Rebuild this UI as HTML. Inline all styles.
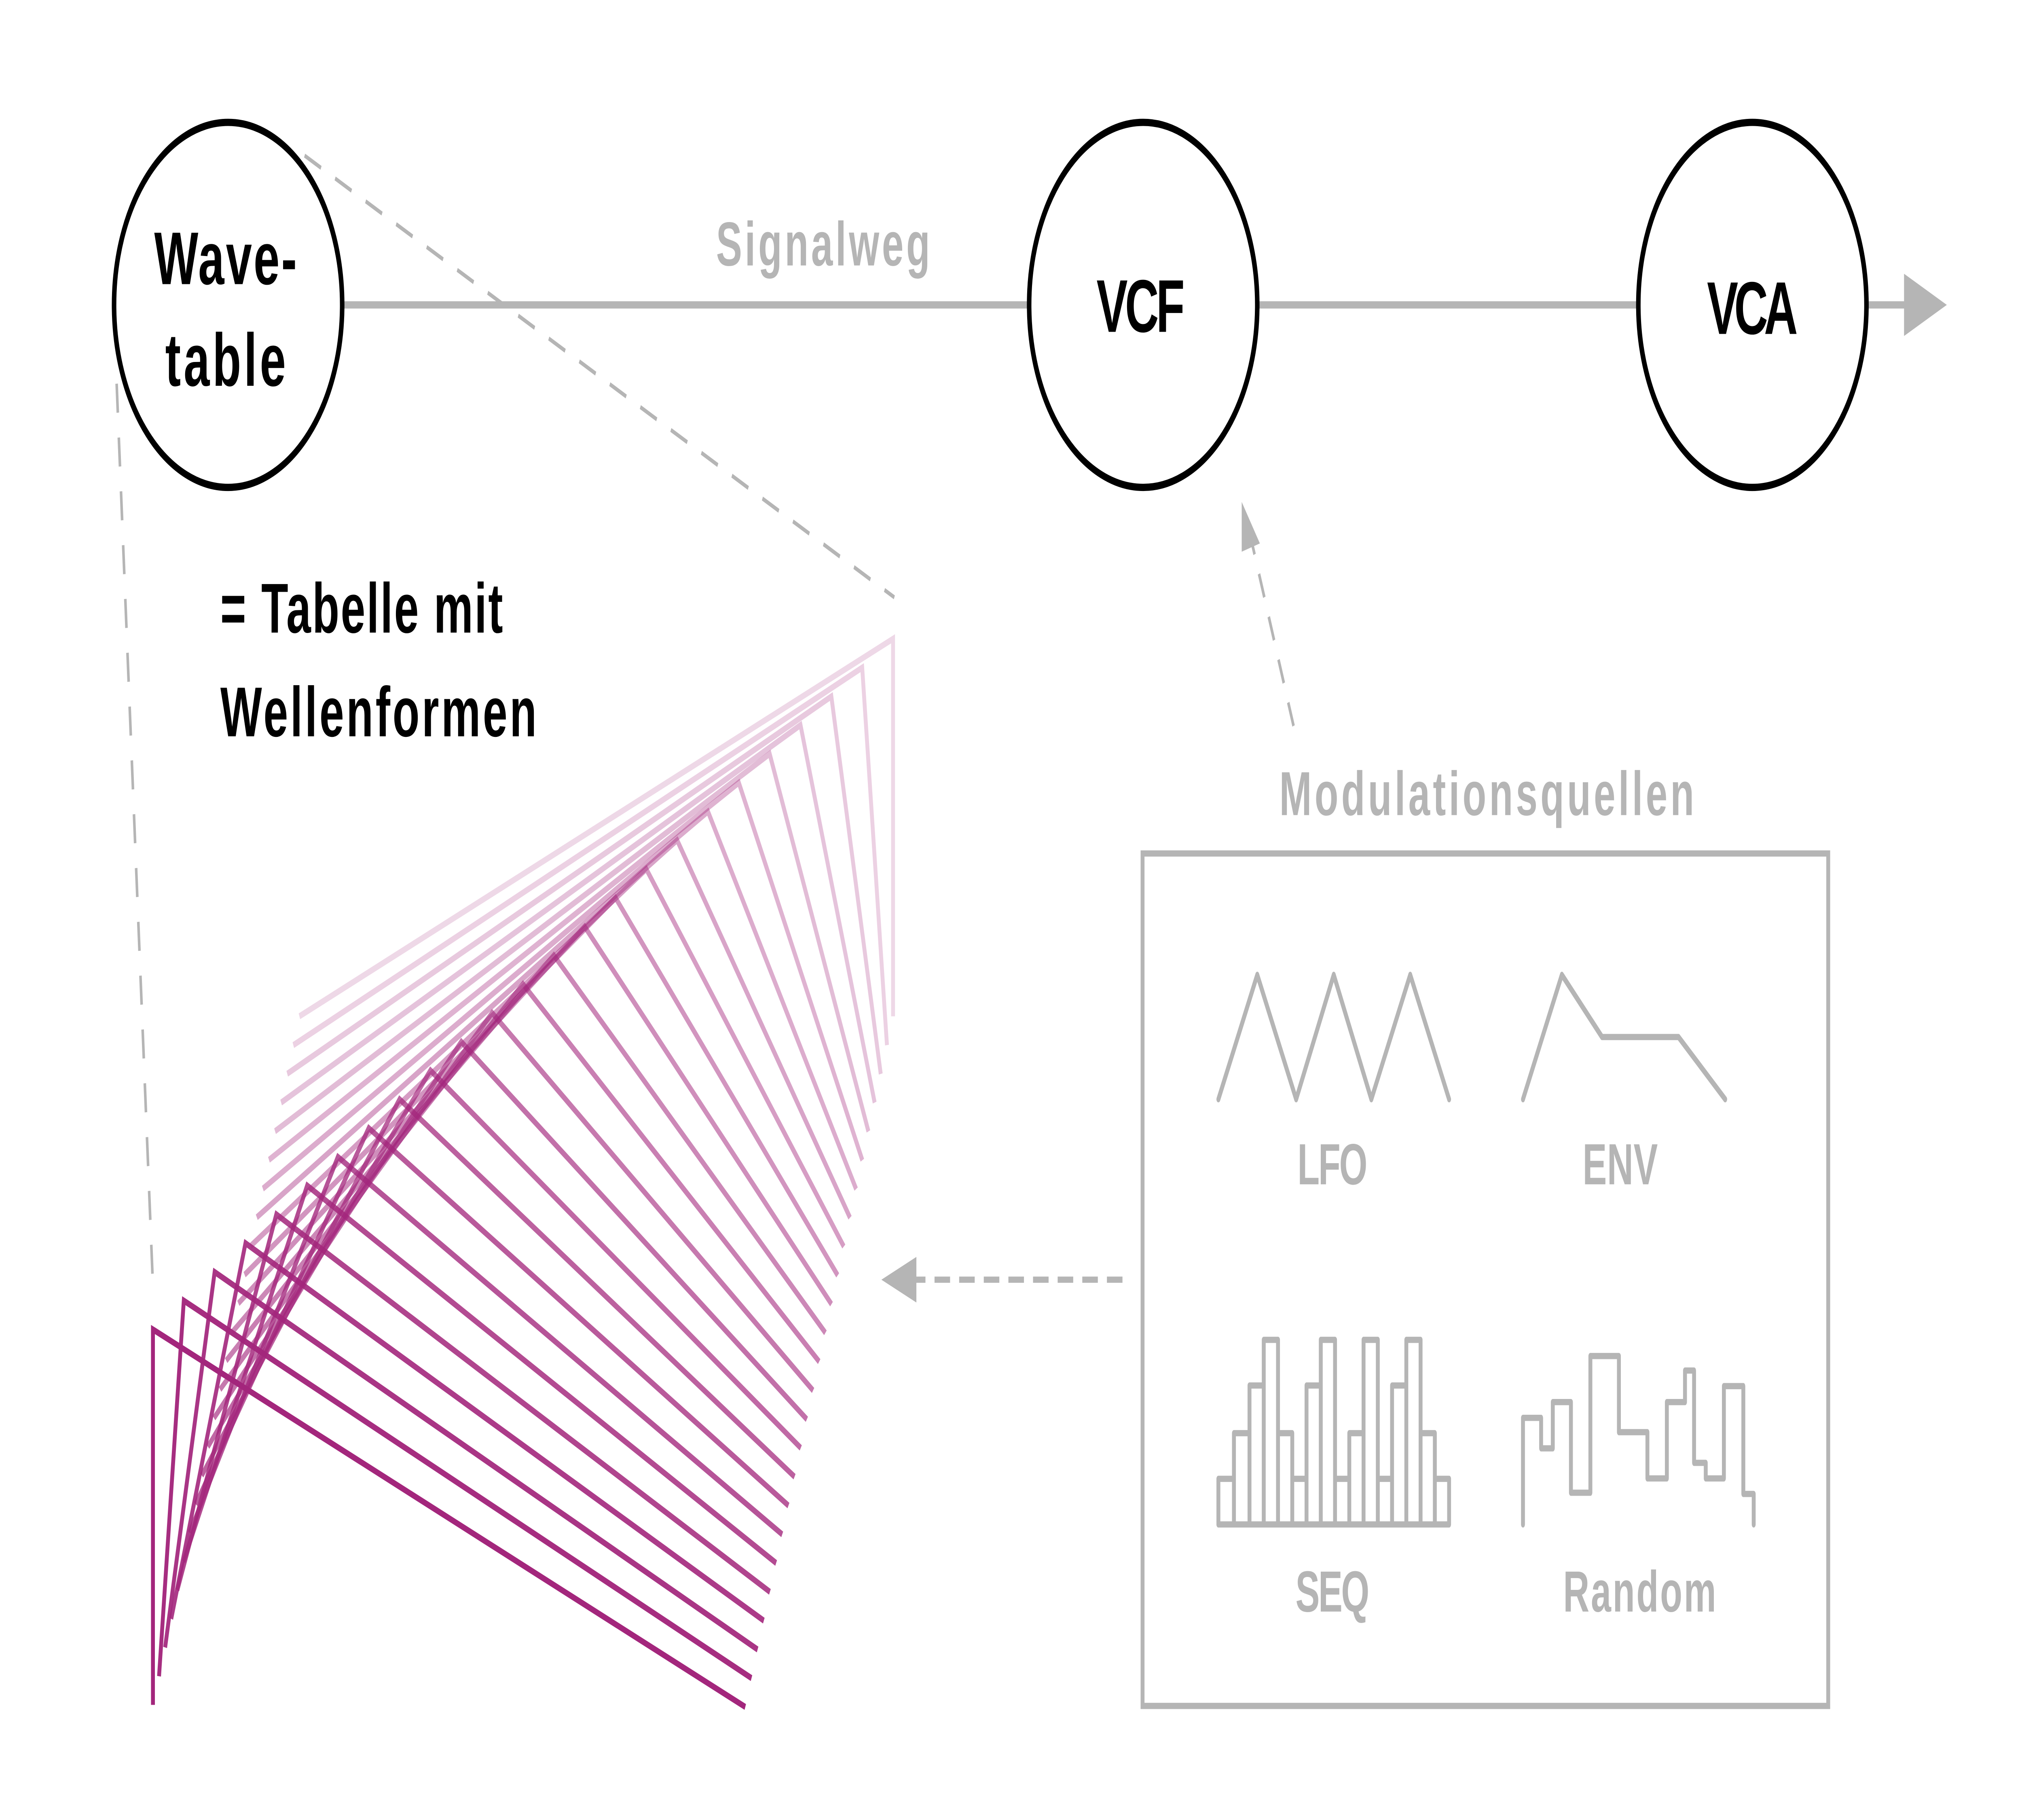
<!DOCTYPE html>
<html><head><meta charset="utf-8"><style>
html,body{margin:0;padding:0;background:#fff;width:100%;height:100%;overflow:hidden;}
svg{display:block;width:100vw;height:100vh;}
text{font-family:"Liberation Sans",sans-serif;font-weight:bold;}
</style></head><body>
<svg viewBox="0 0 1560 877.5" preserveAspectRatio="none" xmlns="http://www.w3.org/2000/svg">
<rect x="0" y="0" width="1560" height="877.5" fill="#fff"/>
<g stroke="#b5b5b5" stroke-width="2" fill="none" stroke-dasharray="14,12">
<line x1="235" y1="75" x2="690" y2="288"/>
<line x1="90" y1="185" x2="118" y2="620"/>
</g>
<g stroke="#b5b5b5" stroke-width="3.5" fill="none">
<line x1="265" y1="147" x2="793" y2="147"/>
<line x1="971" y1="147" x2="1263" y2="147"/>
<line x1="1441" y1="147" x2="1475" y2="147"/>
</g>
<polygon points="1469,132 1502,147 1469,162" fill="#b5b5b5"/>
<text x="635" y="128" font-size="30" fill="#b5b5b5" text-anchor="middle" textLength="165">Signalweg</text>
<g stroke="#000" stroke-width="3.5" fill="#fff">
<circle cx="176" cy="147" r="88"/>
<circle cx="882" cy="147" r="88"/>
<circle cx="1352" cy="147" r="88"/>
</g>
<text x="174" y="137" font-size="36" text-anchor="middle" textLength="110">Wave-</text>
<text x="174" y="186" font-size="36" text-anchor="middle" textLength="93">table</text>
<text x="880" y="160" font-size="36" text-anchor="middle" textLength="68">VCF</text>
<text x="1352" y="161" font-size="36" text-anchor="middle" textLength="70">VCA</text>
<text x="170" y="305" font-size="34" textLength="218">= Tabelle mit</text>
<text x="170" y="355" font-size="34" textLength="244">Wellenformen</text>
<line x1="998" y1="350" x2="966" y2="262" stroke="#b5b5b5" stroke-width="2" stroke-dasharray="12,10"/>
<polygon points="958,242 972,262 958,266" fill="#b5b5b5"/>
<line x1="866" y1="617" x2="705" y2="617" stroke="#b5b5b5" stroke-width="3" stroke-dasharray="12,7"/>
<polygon points="680,617 707,606 707,628" fill="#b5b5b5"/>
<text x="1147" y="393" font-size="30" fill="#b5b5b5" text-anchor="middle" textLength="320">Modulationsquellen</text>
<rect x="881.5" y="411.5" width="529" height="411" fill="none" stroke="#b5b5b5" stroke-width="3"/>
<g stroke="#b5b5b5" stroke-width="3" fill="none" stroke-linejoin="round" stroke-linecap="round">
<polyline points="940,530 970,470 1000,530 1029,470 1058,530 1088,470 1118,530"/>
<polyline points="1175,530 1205,470 1236,500 1295,500 1331,530"/>
<path d="M940,735 H1118 V713 H1107 V735 M1107,691 H1096 V735 M1096,646 H1085 V735 M1085,668 H1074 V735 M1074,713 H1063 V735 M1063,646 H1052 V735 M1052,691 H1041 V735 M1041,713 H1030 V735 M1030,646 H1019 V735 M1019,668 H1008 V735 M1008,713 H997 V735 M997,691 H986 V735 M986,646 H975 V735 M975,668 H964 V735 M964,691 H952 V735 M952,713 H940 V735 M1107,691 V713 M1096,646 V691 M1085,646 V668 M1074,668 V713 M1063,646 V713 M1052,646 V691 M1041,691 V713 M1030,646 V713 M1019,646 V668 M1008,668 V713 M997,691 V713 M986,646 V691 M975,646 V668 M964,668 V691 M952,691 V713"/>
<polyline points="1175,735 1175,683.6 1189,683.6 1189,698.3 1198,698.3 1198,676 1212,676 1212,719.7 1227,719.7 1227,653.8 1249,653.8 1249,690.5 1271,690.5 1271,712.8 1286,712.8 1286,676 1300,676 1300,660.8 1307,660.8 1307,705.3 1316,705.3 1316,712.8 1330,712.8 1330,668.3 1345,668.3 1345,720.3 1353,720.3 1353,735"/>
</g>
<g font-size="28" fill="#b5b5b5" text-anchor="middle">
<text x="1028" y="571" textLength="54">LFO</text>
<text x="1250" y="571" textLength="58">ENV</text>
<text x="1028" y="777" textLength="57">SEQ</text>
<text x="1265" y="777" textLength="118">Random</text>
</g>
<g stroke="#a3267c" stroke-width="3" fill="none" stroke-linejoin="miter">
<polyline opacity="0.18" points="231,490 689,308 689,490"/>
<polyline opacity="0.21" points="226.3,503.9 665.2,321.9 684.3,503.9"/>
<polyline opacity="0.25" points="221.6,517.7 641.4,335.8 679.5,517.8"/>
<polyline opacity="0.28" points="216.9,531.6 617.6,349.6 674.8,531.6"/>
<polyline opacity="0.31" points="212.2,545.4 593.8,363.5 670,545.5"/>
<polyline opacity="0.35" points="207.5,559.2 570,377.4 665.3,559.4"/>
<polyline opacity="0.38" points="202.8,573.1 546.2,391.3 660.5,573.3"/>
<polyline opacity="0.42" points="198.1,586.9 522.4,405.1 655.8,587.1"/>
<polyline opacity="0.45" points="193.4,600.7 498.6,419 651,601"/>
<polyline opacity="0.49" points="188.7,614.6 474.9,432.9 646.3,614.9"/>
<polyline opacity="0.52" points="183.9,628.4 451.1,446.8 641.5,628.8"/>
<polyline opacity="0.55" points="179.2,642.2 427.3,460.6 636.8,642.6"/>
<polyline opacity="0.59" points="174.5,656 403.5,474.5 632,656.5"/>
<polyline opacity="0.62" points="169.8,669.9 379.7,488.4 627.3,670.4"/>
<polyline opacity="0.66" points="165.1,683.7 355.9,502.3 622.5,684.3"/>
<polyline opacity="0.69" points="160.4,697.5 332.1,516.1 617.8,698.1"/>
<polyline opacity="0.73" points="155.7,711.4 308.3,530 613,712"/>
<polyline opacity="0.76" points="151,725.2 284.5,543.9 608.3,725.9"/>
<polyline opacity="0.79" points="146.3,739 260.7,557.8 603.5,739.8"/>
<polyline opacity="0.83" points="141.6,752.9 237,571.6 598.8,753.6"/>
<polyline opacity="0.86" points="136.8,766.7 213.2,585.5 594,767.5"/>
<polyline opacity="0.90" points="132.1,780.5 189.4,599.4 589.3,781.4"/>
<polyline opacity="0.93" points="127.4,794.3 165.6,613.3 584.5,795.3"/>
<polyline opacity="0.97" points="122.7,808.2 141.8,627.1 579.8,809.1"/>
<polyline opacity="1" points="118,822 118,641 575,823"/>
</g>
</svg>
</body></html>
